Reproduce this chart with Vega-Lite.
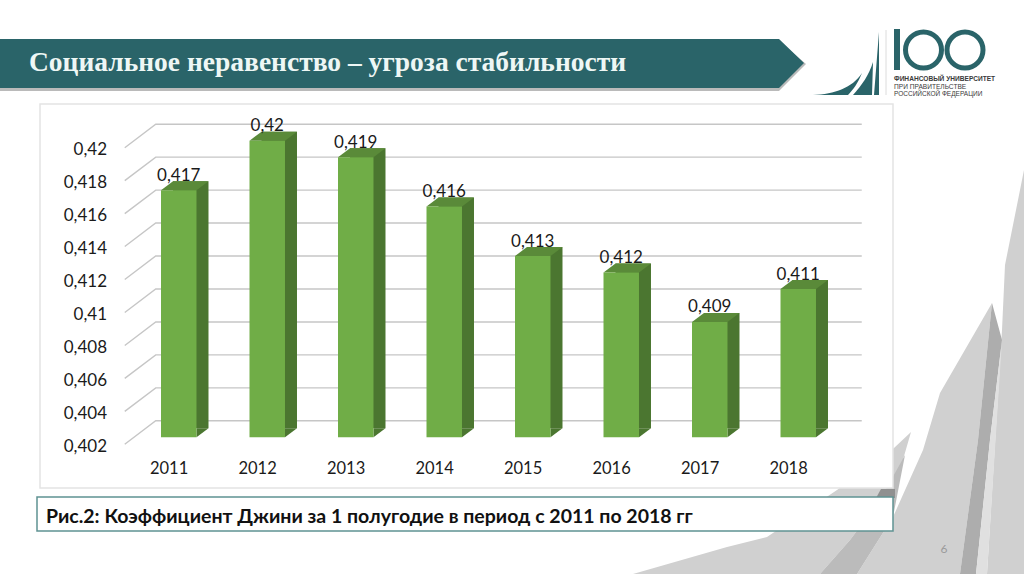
{
"$schema":"https://vega.github.io/schema/vega-lite/v6.json",
"width":853,"height":384,
"autosize":"none",
"padding":{"left":40,"top":104,"right":131,"bottom":86},
"background":"#ffffff",
"config":{"view":{"stroke":null},"axis":{"grid":false,"domain":false,"ticks":false,"title":null}},
"datasets":{
"gini":[
{"year":"2011","value":0.417,"label":"0,417"},
{"year":"2012","value":0.42,"label":"0,42"},
{"year":"2013","value":0.419,"label":"0,419"},
{"year":"2014","value":0.416,"label":"0,416"},
{"year":"2015","value":0.413,"label":"0,413"},
{"year":"2016","value":0.412,"label":"0,412"},
{"year":"2017","value":0.409,"label":"0,409"},
{"year":"2018","value":0.411,"label":"0,411"}],
"levels":[{"level":0.402},{"level":0.404},{"level":0.406},{"level":0.408},{"level":0.41},{"level":0.412},{"level":0.414},{"level":0.416},{"level":0.418},{"level":0.42}],
"one":[{"part":"slide"}]
},
"layer":[
{"data":{"name":"one"},"mark":{"type":"point","clip":false,"size":4,"filled":true,"opacity":1,"fill":"#d0d0d0","xOffset":-178.75,"yOffset":-437.3,"shape":"M1024,170 L1005,265 L1002,330 L987,574 L1024,574 Z M992,303 L940,393 L923,450 L893,517 L857,574 L960,574 L978,440 Z M911,432 L894,448 L837,490 L767,537 L727,547 L633,574 L820,574 L850,540 L880,500 L900,470 Z"},"encoding":{"x":{"datum":"2011","type":"nominal"},"y":{"datum":0.402,"type":"quantitative"}}},
{"data":{"name":"one"},"mark":{"type":"point","clip":false,"size":4,"filled":true,"opacity":1,"fill":"#adadad","xOffset":-178.75,"yOffset":-437.3,"shape":"M992,303 L978,440 L960,574 L976,574 L990,440 L1002,340 Z"},"encoding":{"x":{"datum":"2011","type":"nominal"},"y":{"datum":0.402,"type":"quantitative"}}},
{"data":{"name":"one"},"mark":{"type":"point","clip":false,"size":4,"filled":true,"opacity":1,"fill":"#bbbbbb","xOffset":-178.75,"yOffset":-437.3,"shape":"M905,455 L893,517 L857,574 L820,574 L850,540 L880,500 Z"},"encoding":{"x":{"datum":"2011","type":"nominal"},"y":{"datum":0.402,"type":"quantitative"}}},
{"data":{"name":"one"},"mark":{"type":"point","clip":false,"size":4,"filled":true,"opacity":1,"fill":"#909090","xOffset":-178.75,"yOffset":-437.3,"shape":"M881,489 L895,489 L895,498 L876,498 Z"},"encoding":{"x":{"datum":"2011","type":"nominal"},"y":{"datum":0.402,"type":"quantitative"}}},
{"data":{"name":"one"},"mark":{"type":"point","clip":false,"size":4,"filled":true,"opacity":1,"fill":"#e0e0e0","xOffset":-178.75,"yOffset":-437.3,"shape":"M1002,340 L990,440 L976,574 L987,574 Z"},"encoding":{"x":{"datum":"2011","type":"nominal"},"y":{"datum":0.402,"type":"quantitative"}}},
{"data":{"name":"one"},"mark":{"type":"point","clip":false,"size":4,"filled":true,"opacity":0.45,"fill":"#666666","xOffset":-178.75,"yOffset":-437.3,"shape":"M0,41 L779,41 L806,64 L779,91 L0,91 Z"},"encoding":{"x":{"datum":"2011","type":"nominal"},"y":{"datum":0.402,"type":"quantitative"}}},
{"data":{"name":"one"},"mark":{"type":"point","clip":false,"size":4,"filled":true,"opacity":1,"fill":"#2a6469","xOffset":-178.75,"yOffset":-437.3,"shape":"M0,39 L779,39 L804,63 L779,88 L0,88 Z M813,95 C835,94 852,88 862,73 C858,83 853,90 848,95 Z M853,95 C862,85 869,75 873,62 L872,95 Z M874,95 L879,32 L879,95 Z M894,29 L900,29 L900,70 L894,70 Z"},"encoding":{"x":{"datum":"2011","type":"nominal"},"y":{"datum":0.402,"type":"quantitative"}}},
{"data":{"name":"one"},"mark":{"type":"point","clip":false,"size":4,"filled":false,"opacity":1,"stroke":"#2a6469","strokeWidth":5,"xOffset":-178.75,"yOffset":-437.3,"shape":"M905.5,50 A18,18 0 1 1 941.5,50 A18,18 0 1 1 905.5,50 Z M947,50 A18,18 0 1 1 983,50 A18,18 0 1 1 947,50 Z"},"encoding":{"x":{"datum":"2011","type":"nominal"},"y":{"datum":0.402,"type":"quantitative"}}},
{"data":{"name":"one"},"mark":{"type":"point","clip":false,"size":4,"filled":false,"opacity":1,"stroke":"#dcdcdc","strokeWidth":1,"xOffset":-178.75,"yOffset":-437.3,"shape":"M886,30 L886,95"},"encoding":{"x":{"datum":"2011","type":"nominal"},"y":{"datum":0.402,"type":"quantitative"}}},
{"data":{"name":"one"},"mark":{"type":"point","clip":false,"size":4,"filled":true,"opacity":1,"fill":"#ffffff","stroke":"#e4e4e4","strokeWidth":1.5,"xOffset":-178.75,"yOffset":-437.3,"shape":"M40,104 L893,104 L893,488 L40,488 Z"},"encoding":{"x":{"datum":"2011","type":"nominal"},"y":{"datum":0.402,"type":"quantitative"}}},
{"data":{"name":"one"},"mark":{"type":"point","clip":false,"size":4,"filled":true,"opacity":1,"fill":"#ffffff","stroke":"#5f9292","strokeWidth":1.5,"xOffset":-178.75,"yOffset":-437.3,"shape":"M37,497 L893,497 L893,531 L37,531 Z"},"encoding":{"x":{"datum":"2011","type":"nominal"},"y":{"datum":0.402,"type":"quantitative"}}},
{"data":{"name":"levels"},"mark":{"type":"point","clip":false,"size":4,"filled":false,"opacity":1,"stroke":"#c6c6c6","strokeWidth":1.4,"shape":"M-54,7 L-23,-16.5 L683,-16.5"},"encoding":{"x":{"datum":"2011","type":"nominal"},"y":{"field":"level","type":"quantitative"}}},
{"data":{"name":"gini"},"mark":{"type":"bar","clip":false,"color":"#4b7630","xOffset":12,"yOffset":-9,"y2Offset":-9},"encoding":{
"x":{"field":"year","type":"nominal","axis":{"zindex":1,"labelAngle":0,"offset":-20,"labelPadding":0,"labelOffset":9.5,"labelFont":"Lato","labelFontSize":16.5,"labelColor":"#1a1a1a"},"scale":{"type":"band","domain":["2011","2012","2013","2014","2015","2016","2017","2018"],"range":[94.5,802.5],"paddingInner":0.599,"paddingOuter":0.2995}},
"y":{"field":"value","type":"quantitative","axis":{"zindex":1,"values":[0.402,0.404,0.406,0.408,0.41,0.412,0.414,0.416,0.418,0.42],"labelExpr":"replace(format(datum.value,'.3~f'),'.',',')","offset":-70.5,"labelPadding":4,"labelOffset":9,"labelFont":"Lato","labelFontSize":17,"labelColor":"#1a1a1a"},"scale":{"domain":[0.402,0.42],"range":[333.3,36.7],"zero":false,"nice":false}},
"y2":{"datum":0.402}}},
{"data":{"name":"gini"},"mark":{"type":"point","clip":false,"size":4,"filled":true,"opacity":1,"fill":"#5a8a39","shape":"M-17.75,0 L-5.75,-9 L29.75,-9 L17.75,0 Z"},"encoding":{"x":{"field":"year","type":"nominal"},"y":{"field":"value","type":"quantitative"}}},
{"data":{"name":"gini"},"mark":{"type":"point","clip":false,"size":4,"filled":true,"opacity":1,"fill":"#4b7630","shape":"M17.75,0 L17.75,-9 L29.75,-9 Z"},"encoding":{"x":{"field":"year","type":"nominal"},"y":{"datum":0.402,"type":"quantitative"}}},
{"data":{"name":"gini"},"mark":{"type":"bar","clip":false,"color":"#70ad47"},"encoding":{"x":{"field":"year","type":"nominal"},"y":{"field":"value","type":"quantitative"},"y2":{"datum":0.402}}},
{"data":{"name":"gini"},"mark":{"type":"text","clip":false,"font":"Lato","fontSize":17,"color":"#1a1a1a","baseline":"alphabetic","dy":-9.5},"encoding":{"x":{"field":"year","type":"nominal"},"y":{"field":"value","type":"quantitative"},"text":{"field":"label"}}},
{"data":{"values":[{"t":"Социальное неравенство – угроза стабильности"}]},"mark":{"type":"text","clip":false,"font":"Liberation Serif","fontSize":27.5,"fontWeight":"bold","color":"#eef7f5","align":"left","baseline":"alphabetic","dx":-149.75,"dy":-366},"encoding":{"x":{"datum":"2011","type":"nominal"},"y":{"datum":0.402,"type":"quantitative"},"text":{"field":"t"}}},
{"data":{"values":[{"t":"Рис.2: Коэффициент Джини за 1 полугодие в период с 2011 по 2018 гг"}]},"mark":{"type":"text","clip":false,"font":"Lato","fontSize":19.5,"fontWeight":"bold","color":"#111111","align":"left","baseline":"alphabetic","dx":-132.75,"dy":85.2},"encoding":{"x":{"datum":"2011","type":"nominal"},"y":{"datum":0.402,"type":"quantitative"},"text":{"field":"t"}}},
{"data":{"values":[{"t":"ФИНАНСОВЫЙ УНИВЕРСИТЕТ"}]},"mark":{"type":"text","clip":false,"font":"Liberation Sans","fontSize":6.6,"fontWeight":"bold","color":"#3a3a3a","align":"left","baseline":"alphabetic","dx":715.25,"dy":-356.8},"encoding":{"x":{"datum":"2011","type":"nominal"},"y":{"datum":0.402,"type":"quantitative"},"text":{"field":"t"}}},
{"data":{"values":[{"t":"ПРИ ПРАВИТЕЛЬСТВЕ"}]},"mark":{"type":"text","clip":false,"font":"Liberation Sans","fontSize":6.6,"color":"#3a3a3a","align":"left","baseline":"alphabetic","dx":715.25,"dy":-348.6},"encoding":{"x":{"datum":"2011","type":"nominal"},"y":{"datum":0.402,"type":"quantitative"},"text":{"field":"t"}}},
{"data":{"values":[{"t":"РОССИЙСКОЙ ФЕДЕРАЦИИ"}]},"mark":{"type":"text","clip":false,"font":"Liberation Sans","fontSize":6.5,"color":"#3a3a3a","align":"left","baseline":"alphabetic","dx":715.25,"dy":-341.3},"encoding":{"x":{"datum":"2011","type":"nominal"},"y":{"datum":0.402,"type":"quantitative"},"text":{"field":"t"}}},
{"data":{"values":[{"t":"6"}]},"mark":{"type":"text","clip":false,"font":"Lato","fontSize":12,"color":"#9a9a9a","align":"center","baseline":"alphabetic","dx":765.25,"dy":116},"encoding":{"x":{"datum":"2011","type":"nominal"},"y":{"datum":0.402,"type":"quantitative"},"text":{"field":"t"}}}
]
}
